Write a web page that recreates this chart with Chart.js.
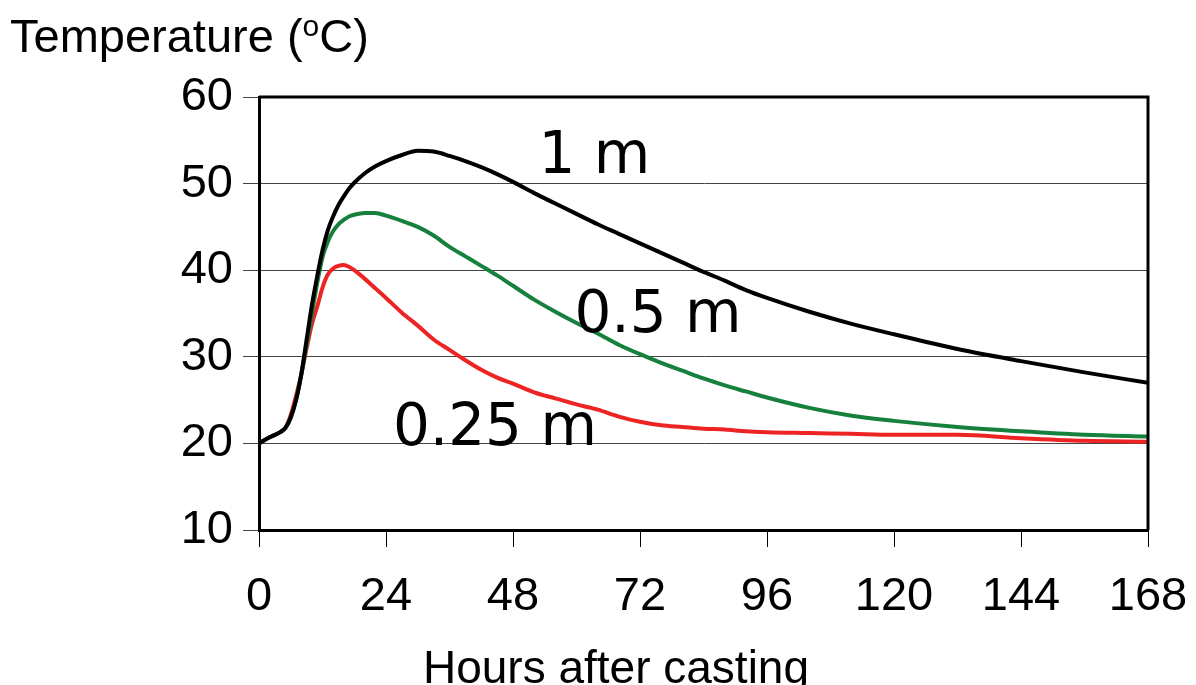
<!DOCTYPE html>
<html>
<head>
<meta charset="utf-8">
<script src="https://cdn.jsdelivr.net/npm/chart.js@4/dist/chart.umd.min.js"></script>
<style>
  html, body { margin: 0; padding: 0; background: #fff; }
  #wrap { width: 1196px; height: 685px; }
</style>
</head>
<body>
<div id="wrap"><canvas id="chart" width="1196" height="685"></canvas></div>
<script>
// Hours after casting, shared by all three curves
const hours = [0, 2, 4, 5, 6, 7, 8, 9, 10, 11, 12, 13, 14, 15, 16, 17, 18, 20, 22, 24, 27, 30, 33, 36, 39, 42, 45, 48,
  52, 56, 60, 64, 68, 72, 76, 80, 84, 88, 92, 96, 104, 112, 120, 132, 144, 156, 168];

// Temperature (oC) for each wall thickness
const temp1m = [20, 20.7, 21.3, 21.8, 23, 25, 28, 32, 36, 39.3, 42.3, 44.6, 46.2, 47.5, 48.5, 49.4, 50.1, 51.2, 52.0, 52.6,
  53.3, 53.8, 53.7, 53.2, 52.6, 51.9, 51.1, 50.2, 48.9, 47.7, 46.5, 45.3, 44.2, 43.1, 42.0, 40.9, 39.8, 38.8, 37.7, 36.8,
  35.2, 33.8, 32.6, 30.9, 29.5, 28.2, 27.0];
const temp05m = [20, 20.7, 21.3, 21.8, 23, 25, 28, 31.5, 35, 38.5, 41.5, 43.3, 44.5, 45.3, 45.8, 46.2, 46.4, 46.6, 46.6, 46.3,
  45.7, 45.0, 44.0, 42.7, 41.6, 40.5, 39.4, 38.2, 36.6, 35.2, 33.9, 32.7, 31.4, 30.3, 29.3, 28.4, 27.5, 26.7, 26.0, 25.3,
  24.1, 23.2, 22.6, 21.9, 21.4, 21.0, 20.8];
const temp025m = [20, 20.7, 21.3, 21.8, 23.3, 25.5, 28, 31, 33.8, 35.8, 38, 39.5, 40.2, 40.5, 40.6, 40.4, 40, 39, 37.9, 36.8,
  35.1, 33.6, 32.0, 30.8, 29.6, 28.5, 27.6, 26.9, 25.9, 25.2, 24.5, 23.9, 23.1, 22.5, 22.1, 21.9, 21.7, 21.6, 21.4, 21.3,
  21.2, 21.1, 21.0, 21.0, 20.6, 20.3, 20.2];

// Tick labels
const xTicks = [0, 24, 48, 72, 96, 120, 144, 168];
const yTicks = [10, 20, 30, 40, 50, 60];

// Curve labels and the data point where each one starts (left edge, baseline)
const seriesLabels = ['1 m', '0.5 m', '0.25 m'];
const labelHours = [52.8, 59.6, 25.3];
const labelTemps = [51.2, 32.9, 19.8];

const toPoints = (ys) => hours.map((h, i) => ({ x: h, y: ys[i] }));

const tickFont = { family: '"Liberation Sans", Arial, sans-serif', size: 47 };

// Draws the frame, axis titles and curve labels
const annotations = {
  id: 'annotations',
  afterDraw(chart) {
    const { ctx, chartArea: a, scales } = chart;
    ctx.save();
    // top and right frame
    ctx.strokeStyle = '#000';
    ctx.lineWidth = 3;
    ctx.beginPath();
    ctx.moveTo(a.left, a.top);
    ctx.lineTo(a.right, a.top);
    ctx.lineTo(a.right, a.bottom);
    ctx.stroke();

    ctx.fillStyle = '#000';
    ctx.textBaseline = 'alphabetic';
    // y title with superscript o
    ctx.font = '47px "Liberation Sans", Arial, sans-serif';
    let x = 10;
    const base = 52;
    ctx.fillText('Temperature (', x, base);
    x += ctx.measureText('Temperature (').width;
    ctx.font = '30px "Liberation Sans", Arial, sans-serif';
    ctx.fillText('o', x, base - 16);
    x += ctx.measureText('o').width;
    ctx.font = '47px "Liberation Sans", Arial, sans-serif';
    ctx.fillText('C)', x, base);

    // x title
    ctx.font = '46px "Liberation Sans", Arial, sans-serif';
    ctx.textAlign = 'center';
    ctx.fillText('Hours after casting', 616, 683);

    // curve labels
    ctx.textAlign = 'left';
    ctx.font = '58px "DejaVu Sans", Verdana, sans-serif';
    seriesLabels.forEach((t, i) => {
      ctx.fillText(t, scales.x.getPixelForValue(labelHours[i]), scales.y.getPixelForValue(labelTemps[i]));
    });
    ctx.restore();
  },
};

new Chart(document.getElementById('chart'), {
  type: 'line',
  data: {
    datasets: [
      { label: seriesLabels[0], data: toPoints(temp1m), borderColor: '#000000' },
      { label: seriesLabels[1], data: toPoints(temp05m), borderColor: '#16803c' },
      { label: seriesLabels[2], data: toPoints(temp025m), borderColor: '#ee2424' },
    ],
  },
  options: {
    responsive: false,
    animation: false,
    layout: { padding: { top: 97, right: 48, left: 0, bottom: 0 } },
    elements: {
      point: { radius: 0 },
      line: { borderWidth: 4, tension: 0.4, cubicInterpolationMode: 'monotone' },
    },
    plugins: { legend: { display: false }, tooltip: { enabled: false } },
    scales: {
      x: {
        type: 'linear',
        min: 0,
        max: 168,
        afterBuildTicks: (s) => { s.ticks = xTicks.map((v) => ({ value: v })); },
        afterFit: (s) => { s.height = 155; s.paddingLeft = 0; s.paddingRight = 0; },
        ticks: { color: '#000', font: tickFont, padding: 22, maxRotation: 0 },
        grid: { drawOnChartArea: false, drawTicks: true, tickLength: 17, color: '#000', lineWidth: 1 },
        border: { color: '#000', width: 3 },
      },
      y: {
        min: 10,
        max: 60,
        afterBuildTicks: (s) => { s.ticks = yTicks.map((v) => ({ value: v })); },
        afterFit: (s) => { s.width = 259; s.paddingTop = 0; s.paddingBottom = 0; },
        ticks: { color: '#000', font: tickFont, padding: 10 },
        grid: { color: '#444', lineWidth: 1, tickLength: 16 },
        border: { color: '#000', width: 3 },
      },
    },
  },
  plugins: [annotations],
});
</script>
</body>
</html>
